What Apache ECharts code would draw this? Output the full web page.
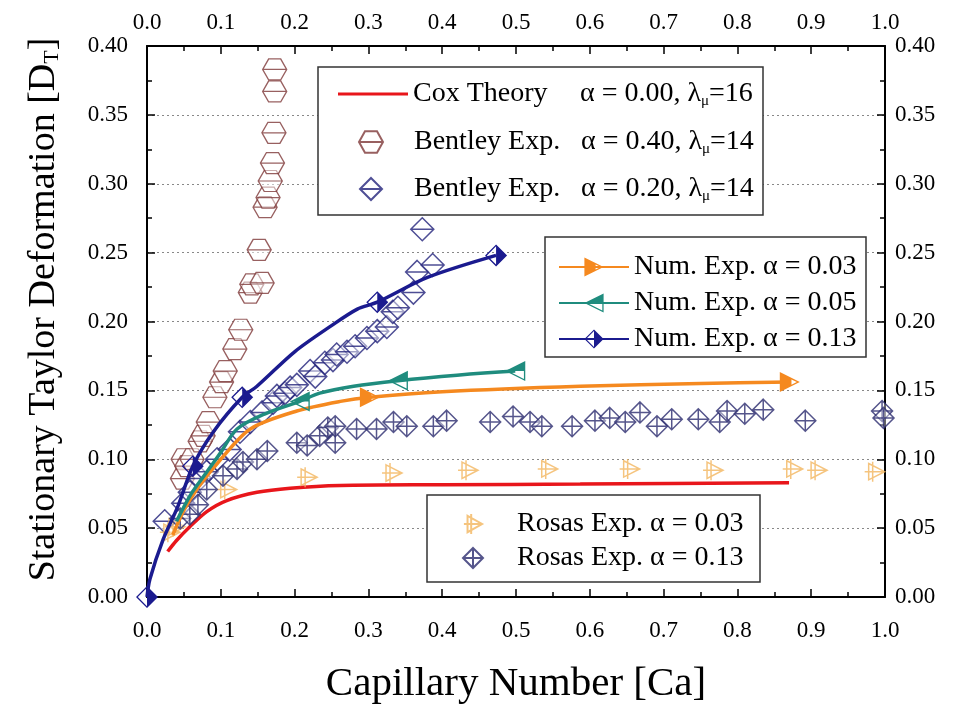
<!DOCTYPE html>
<html><head><meta charset="utf-8">
<script src="https://cdn.jsdelivr.net/npm/echarts@6/dist/echarts.min.js"></script>
<style>html,body{margin:0;padding:0;background:#fff}#c{width:961px;height:710px}</style>
</head><body><div id="c"></div>
<script>
// ---- data ----
var xTicks = [0,0.1,0.2,0.3,0.4,0.5,0.6,0.7,0.8,0.9,1.0];
var yTicks = [0,0.05,0.10,0.15,0.20,0.25,0.30,0.35,0.40];

var coxTheory = [[0.028,0.033],[0.04,0.041],[0.058,0.051],[0.081,0.062],[0.108,0.070],[0.149,0.076],[0.194,0.079],[0.262,0.081],[0.40,0.0815],[0.587,0.082],[0.87,0.083]];

var bentley40 = [[0.048,0.086],[0.049,0.100],[0.054,0.095],[0.061,0.100],[0.072,0.113],[0.076,0.117],[0.083,0.127],[0.092,0.145],[0.101,0.156],[0.106,0.164],[0.119,0.180],[0.127,0.194],[0.140,0.221],[0.142,0.227],[0.156,0.228],[0.152,0.252],[0.160,0.283],[0.164,0.290],[0.167,0.302],[0.170,0.315],[0.172,0.337],[0.173,0.367],[0.173,0.383]];

var bentley20 = [[0.024,0.055],[0.049,0.068],[0.058,0.076],[0.072,0.086],[0.081,0.091],[0.095,0.100],[0.112,0.107],[0.126,0.120],[0.140,0.127],[0.156,0.134],[0.171,0.141],[0.176,0.146],[0.187,0.148],[0.194,0.152],[0.203,0.154],[0.221,0.164],[0.228,0.160],[0.241,0.170],[0.252,0.172],[0.257,0.176],[0.271,0.178],[0.282,0.182],[0.298,0.188],[0.312,0.193],[0.325,0.196],[0.333,0.207],[0.340,0.210],[0.361,0.221],[0.366,0.236],[0.387,0.241],[0.373,0.267]];

var num03 = [[0.035,0.045],[0.05,0.063],[0.07,0.080],[0.10,0.100],[0.14,0.122],[0.203,0.135],[0.262,0.142],[0.302,0.145],[0.40,0.149],[0.587,0.153],[0.75,0.155],[0.871,0.156]];
var num03Marks = [0.302,0.871];

var num05 = [[0.04,0.055],[0.06,0.075],[0.08,0.090],[0.10,0.105],[0.122,0.122],[0.16,0.133],[0.207,0.142],[0.234,0.148],[0.28,0.153],[0.340,0.157],[0.42,0.161],[0.499,0.164]];
var num05Marks = [0.207,0.340,0.499];

var num13 = [[0,0],[0.004,0.013],[0.022,0.042],[0.042,0.066],[0.062,0.095],[0.09,0.120],[0.129,0.145],[0.149,0.153],[0.20,0.178],[0.25,0.197],[0.285,0.209],[0.312,0.214],[0.38,0.232],[0.473,0.248]];
var num13Marks = [0,0.062,0.129,0.312,0.473];

var rosas03 = [[0.031,0.047],[0.038,0.051],[0.108,0.078],[0.217,0.087],[0.332,0.090],[0.435,0.092],[0.543,0.093],[0.654,0.093],[0.767,0.092],[0.875,0.093],[0.908,0.092],[0.986,0.091]];

var rosas13 = [[0.045,0.057],[0.058,0.060],[0.069,0.067],[0.081,0.078],[0.103,0.088],[0.122,0.093],[0.130,0.098],[0.149,0.100],[0.163,0.106],[0.203,0.112],[0.217,0.110],[0.234,0.117],[0.245,0.123],[0.255,0.112],[0.255,0.124],[0.284,0.122],[0.311,0.122],[0.334,0.127],[0.352,0.124],[0.388,0.124],[0.406,0.128],[0.465,0.127],[0.496,0.131],[0.519,0.127],[0.535,0.124],[0.576,0.124],[0.607,0.128],[0.627,0.130],[0.648,0.127],[0.668,0.134],[0.691,0.124],[0.711,0.129],[0.747,0.129],[0.776,0.127],[0.786,0.135],[0.810,0.133],[0.835,0.136],[0.892,0.128],[0.996,0.135],[0.998,0.130]];

var names = {
  cox: 'Cox Theory',
  b40: 'Bentley Exp. α = 0.40',
  b20: 'Bentley Exp. α = 0.20',
  n03: 'Num. Exp. α = 0.03',
  n05: 'Num. Exp. α = 0.05',
  n13: 'Num. Exp. α = 0.13',
  r03: 'Rosas Exp. α = 0.03',
  r13: 'Rosas Exp. α = 0.13'
};

// ---- styles ----
var FONT = 'Liberation Serif';
var C = {cox:'#e8161b', b40:'#7e3838', b20:'#22227a', n03:'#f5891f', n05:'#1f8c7e', n13:'#1b1b8f', r03:'#f2b55e', r13:'#2b2b6e'};
var SYM = {
  hex: 'path://M-5,-9 L5,-9 L10,0 L5,9 L-5,9 L-10,0 Z M-10,0 L10,0',
  diaLine: 'path://M0,-10 L10,0 L0,10 L-10,0 Z M-10,0 L10,0',
  diaCross: 'path://M0,-10 L10,0 L0,10 L-10,0 Z M-10,0 L10,0 M0,-10 L0,10',
  triCross: 'path://M-7,-9 L9,0 L-7,9 Z M-11,0 L9,0 M-3,-11 L-3,11',
  triRightHalf: 'path://M-9,-9 L9,0 L-9,9 Z M1.5,-2.4 L1.5,2.4 L6.3,0 Z',
  triLeftHalf: 'path://M-9,0 L9,-9 L9,9 Z M-6.3,0 L7.8,7.1 L7.8,0 Z',
  diaHalf: 'path://M0,-10 L10,0 L0,10 L-10,0 Z M0,-8.3 L-8.3,0 L0,8.3 Z'
};

function markedLine(points, marks) {
  return points.map(function (p) {
    var isMark = marks.indexOf(p[0]) >= 0;
    return isMark ? {value: p} : {value: p, symbol: 'none'};
  });
}

var chart = echarts.init(document.getElementById('c'), null, {renderer: 'canvas'});

function axisX(pos, withName) {
  var a = {
    type: 'value', min: 0, max: 1, interval: 0.1, position: pos,
    axisLine: {show: true, onZero: false, lineStyle: {color: '#000', width: 2}},
    axisTick: {show: true, inside: true, length: 8, lineStyle: {color: '#000', width: 1.5}},
    minorTick: {show: true, splitNumber: 2, length: 5, lineStyle: {color: '#000', width: 1.5}},
    splitLine: {show: false},
    axisLabel: {color: '#000', fontFamily: FONT, fontSize: 23, margin: pos === 'top' ? 12 : 22,
      formatter: function (v) { return v.toFixed(1); }}
  };
  if (withName) {
    a.name = 'Capillary Number [Ca]';
    a.nameLocation = 'middle';
    a.nameGap = 67;
    a.nameTextStyle = {color: '#000', fontFamily: FONT, fontSize: 41};
  }
  return a;
}
function axisY(pos, withName) {
  var a = {
    type: 'value', min: 0, max: 0.4, interval: 0.05, position: pos,
    axisLine: {show: true, onZero: false, lineStyle: {color: '#000', width: 2}},
    axisTick: {show: true, inside: true, length: 8, lineStyle: {color: '#000', width: 1.5}},
    minorTick: {show: true, splitNumber: 2, length: 5, lineStyle: {color: '#000', width: 1.5}},
    splitLine: {show: pos === 'left', lineStyle: {color: '#888', type: [2, 3], width: 1}},
    axisLabel: {color: '#000', fontFamily: FONT, fontSize: 23, margin: pos === 'left' ? 19 : 10,
      formatter: function (v) { return v.toFixed(2); }}
  };
  if (withName) {
    a.name = 'Stationary Taylor Deformation [D{sub|T}]';
    a.nameLocation = 'middle';
    a.nameGap = 84;
    a.nameRotate = 90;
    a.nameTextStyle = {color: '#000', fontFamily: FONT, fontSize: 38, padding: [0, 0, 0, 24],
      rich: {sub: {fontFamily: FONT, fontSize: 22, color: '#000', verticalAlign: 'bottom', padding: [16, 0, 0, 0]}}};
  }
  return a;
}

var legendText = {
  color: '#000', fontFamily: FONT, fontSize: 28, lineHeight: 30,
  rich: {
    n: {fontFamily: FONT, fontSize: 28, color: '#000', width: 167},
    m: {fontFamily: FONT, fontSize: 28, color: '#000', width: 167, padding: [0, 0, 0, 26]},
    v: {fontFamily: FONT, fontSize: 28, color: '#000'},
    s: {fontFamily: FONT, fontSize: 15, color: '#000', verticalAlign: 'bottom', padding: [18, 0, 0, 0]},
    r: {fontFamily: FONT, fontSize: 28, color: '#000', padding: [0, 0, 0, 28]}
  }
};
var legendFmt = {};
legendFmt[names.cox] = '{n|Cox Theory}{v|α = 0.00, λ}{s|μ}{v|=16}';
legendFmt[names.b40] = '{m|Bentley Exp.}{v|α = 0.40, λ}{s|μ}{v|=14}';
legendFmt[names.b20] = '{m|Bentley Exp.}{v|α = 0.20, λ}{s|μ}{v|=14}';
legendFmt[names.r03] = '{r|' + names.r03 + '}';
legendFmt[names.r13] = '{r|' + names.r13 + '}';

var option = {
  animation: false,
  backgroundColor: '#fff',
  grid: {left: 147, right: 76, top: 46, bottom: 112, containLabel: false},
  xAxis: [axisX('bottom', true), axisX('top', false)],
  yAxis: [axisY('left', true), axisY('right', false)],
  graphic: [
    {type: 'rect', z: 50, shape: {x: 318, y: 67, width: 445, height: 148}, style: {fill: '#fff', stroke: '#333', lineWidth: 1.5}},
    {type: 'rect', z: 50, shape: {x: 545, y: 237, width: 321, height: 120}, style: {fill: '#fff', stroke: '#333', lineWidth: 1.5}},
    {type: 'rect', z: 50, shape: {x: 427, y: 495, width: 333, height: 87}, style: {fill: '#fff', stroke: '#333', lineWidth: 1.5}}
  ],
  legend: [
    {data: [{name: names.cox, icon: 'rect'}], left: 333, top: 74, orient: 'vertical', itemWidth: 70, itemHeight: 3, itemGap: 17, z: 60,
      textStyle: legendText, formatter: function (n) { return legendFmt[n]; }},
    {data: [names.b40, names.b20], left: 353, top: 122, orient: 'vertical', itemWidth: 24, itemHeight: 22, itemGap: 17, z: 60,
      textStyle: legendText, formatter: function (n) { return legendFmt[n]; }},
    {data: [names.n03, names.n05, names.n13], left: 553, top: 247, orient: 'vertical', itemWidth: 70, itemHeight: 24, itemGap: 6, z: 60,
      textStyle: {color: '#000', fontFamily: FONT, fontSize: 28, lineHeight: 30}},
    {data: [names.r03, names.r13], left: 457, top: 504, orient: 'vertical', itemWidth: 22, itemHeight: 20, itemGap: 4, z: 60,
      textStyle: legendText, formatter: function (n) { return legendFmt[n]; }}
  ],
  series: [
    {name: names.cox, type: 'line', data: coxTheory, symbol: 'none', smooth: 0.3, z: 3,
      lineStyle: {color: C.cox, width: 3.5}, itemStyle: {color: C.cox}},
    {name: names.b40, type: 'scatter', data: bentley40, symbol: SYM.hex, symbolSize: [24, 21], z: 4,
      itemStyle: {color: 'rgba(255,255,255,0.6)', borderColor: C.b40, borderWidth: 1.3}},
    {name: names.b20, type: 'scatter', data: bentley20, symbol: SYM.diaLine, symbolSize: [23, 23], z: 4,
      itemStyle: {color: 'rgba(255,255,255,0.6)', borderColor: C.b20, borderWidth: 1.5}},
    {name: names.n03, type: 'line', data: markedLine(num03, num03Marks), symbol: SYM.triRightHalf, symbolSize: 20, showAllSymbol: true, smooth: 0.3, z: 5,
      lineStyle: {color: C.n03, width: 3.5}, itemStyle: {color: C.n03}},
    {name: names.n05, type: 'line', data: markedLine(num05, num05Marks), symbol: SYM.triLeftHalf, symbolSize: 20, showAllSymbol: true, smooth: 0.3, z: 5,
      lineStyle: {color: C.n05, width: 3.5}, itemStyle: {color: C.n05}},
    {name: names.n13, type: 'line', data: markedLine(num13, num13Marks), symbol: SYM.diaHalf, symbolSize: 22, showAllSymbol: true, smooth: 0.3, z: 5,
      lineStyle: {color: C.n13, width: 3.5}, itemStyle: {color: C.n13}},
    {name: names.r03, type: 'scatter', data: rosas03, symbol: SYM.triCross, symbolSize: [20, 20], z: 4,
      itemStyle: {color: 'rgba(255,255,255,0.5)', borderColor: C.r03, borderWidth: 1.5}},
    {name: names.r13, type: 'scatter', data: rosas13, symbol: SYM.diaCross, symbolSize: [21, 21], z: 4,
      itemStyle: {color: 'rgba(255,255,255,0.5)', borderColor: C.r13, borderWidth: 1.5}}
  ]
};
chart.setOption(option);
</script></body></html>
